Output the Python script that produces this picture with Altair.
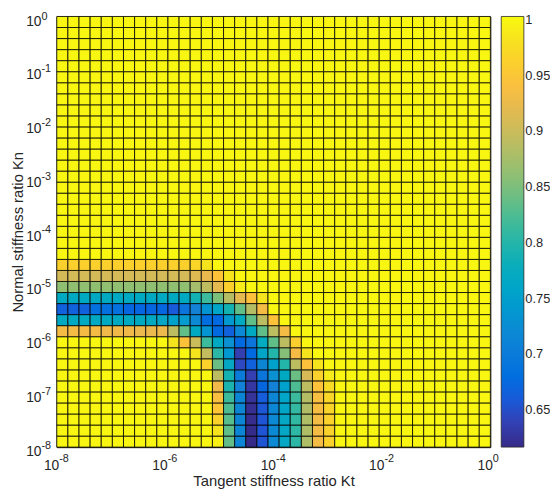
import altair as alt
import numpy as np
import pandas as pd

# ---- grid: 39 x 39 cells, edges at logspace(-8, 0, 40) ----
N_CELLS = 39
EXP_MIN, EXP_MAX = -8.0, 0.0

# Non-unity cell values per row (row 0 = bottom, Kn = 1e-8), each row starts at a column index
ROW_START = [14, 14, 14, 14, 14, 14, 14, 13, 12, 10, 0, 0, 0, 0, 0, 0, 0]
r00 = [0.995, 0.837, 0.715, 0.617, 0.655, 0.720, 0.765, 0.805, 0.880, 0.935, 0.965]
r01 = [0.985, 0.835, 0.715, 0.618, 0.655, 0.720, 0.765, 0.806, 0.880, 0.935, 0.965]
r02 = [0.965, 0.830, 0.715, 0.620, 0.655, 0.720, 0.765, 0.808, 0.880, 0.935, 0.965]
r03 = [0.950, 0.825, 0.715, 0.622, 0.657, 0.717, 0.763, 0.810, 0.882, 0.937, 0.967]
r04 = [0.940, 0.815, 0.715, 0.626, 0.662, 0.715, 0.760, 0.815, 0.885, 0.940, 0.970]
r05 = [0.930, 0.795, 0.710, 0.630, 0.670, 0.710, 0.755, 0.825, 0.890, 0.945, 0.975]
r06 = [0.890, 0.790, 0.700, 0.638, 0.690, 0.730, 0.770, 0.840, 0.910, 0.963, 0.990]
r07 = [0.965, 0.840, 0.765, 0.645, 0.665, 0.715, 0.755, 0.800, 0.890, 0.945, 0.985]
r08 = [0.985, 0.895, 0.805, 0.740, 0.637, 0.675, 0.760, 0.800, 0.855, 0.935, 0.985]
r09 = [0.985, 0.945, 0.900, 0.815, 0.770, 0.730, 0.675, 0.690, 0.775, 0.835, 0.890, 0.960]
r10 = [0.935, 0.935, 0.935, 0.935, 0.930, 0.930, 0.930, 0.925, 0.925, 0.925,
       0.890, 0.835, 0.770, 0.735, 0.675, 0.665, 0.720, 0.770, 0.835, 0.890, 0.935]
r11 = [0.770, 0.770, 0.770, 0.770, 0.770, 0.770, 0.770, 0.770, 0.770,
       0.765, 0.755, 0.745, 0.720, 0.680, 0.675, 0.740, 0.770, 0.835, 0.890, 0.945]
r12 = [0.665, 0.665, 0.665, 0.685, 0.685, 0.685, 0.670, 0.670, 0.670, 0.670, 0.660,
       0.690, 0.710, 0.735, 0.760, 0.790, 0.835, 0.885, 0.935]
r13 = [0.770] * 12 + [0.790, 0.815, 0.850, 0.885, 0.920, 0.945, 0.985]
r14 = [0.862] * 12 + [0.875, 0.892, 0.920, 0.963, 0.990]
r15 = [0.908] * 12 + [0.915, 0.925, 0.946, 0.985]
r16 = [0.963] * 12 + [0.970, 0.985]
ROWS = [r00, r01, r02, r03, r04, r05, r06, r07, r08, r09, r10, r11, r12, r13, r14, r15, r16]

X_TICK_EXP = [-8, -6, -4, -2, 0]
Y_TICK_EXP = [-8, -7, -6, -5, -4, -3, -2, -1, 0]
CBAR_TICKS = [0.65, 0.70, 0.75, 0.80, 0.85, 0.90, 0.95, 1.00]
CBAR_TOP = 1.003   # colour-bar end, just above 1 so the "1" label centres on the top

# MATLAB parula (every 3rd of the 64-entry map)
PARULA = ["#352a87", "#353dad", "#2053d4", "#0268e1", "#0d75dc", "#1481d6",
          "#108ed2", "#079ccf", "#06a7c6", "#0faeb9", "#25b5a9", "#42bb98",
          "#65be86", "#87bf77", "#a5be6b", "#c0bc60", "#d9ba56", "#f1b94a",
          "#ffc337", "#fad32a", "#f5e41d", "#f9fb0e"]

# ---- build cell table ----
grid = np.ones((N_CELLS, N_CELLS))
for j, (start, vals) in enumerate(zip(ROW_START, ROWS)):
    grid[j, start:start + len(vals)] = vals

edges = [10.0 ** (EXP_MIN + (EXP_MAX - EXP_MIN) * k / N_CELLS) for k in range(N_CELLS + 1)]
recs = []
for j in range(N_CELLS):
    for i in range(N_CELLS):
        recs.append({"x0": edges[i], "x1": edges[i + 1],
                     "y0": edges[j], "y1": edges[j + 1], "v": grid[j, i]})
cells = pd.DataFrame(recs)
vmin = float(grid.min())

ticks_df = pd.DataFrame({"kt": [10.0 ** e for e in Y_TICK_EXP],
                         "kn": [10.0 ** e for e in Y_TICK_EXP]})

FONT = "Liberation Sans"
TXT = "#262626"
xvals = [10.0 ** e for e in X_TICK_EXP]
yvals = [10.0 ** e for e in Y_TICK_EXP]
EXP_LABEL = "'' + round(log(datum.value) / LN10)"

def log_scale():
    return alt.Scale(type="log", domain=[10.0 ** EXP_MIN, 10.0 ** EXP_MAX], nice=False)

heat = alt.Chart(cells).mark_rect(stroke="black", strokeWidth=0.8).encode(
    x=alt.X("x0:Q", scale=log_scale(),
            axis=alt.Axis(orient="bottom", values=xvals, labelExpr="'10'",
                          labelAlign="right", labelBaseline="top", labelOffset=2,
                          labelPadding=12, labelFontSize=14, labelFlush=False,
                          labelOverlap=False, ticks=False, tickSize=0, grid=False,
                          domainColor=TXT, title="Tangent stiffness ratio Kt",
                          titleFontSize=15, titlePadding=1)),
    x2="x1:Q",
    y=alt.Y("y0:Q", scale=log_scale(),
            axis=alt.Axis(orient="left", values=yvals, labelExpr="'10'",
                          labelAlign="right", labelBaseline="middle",
                          labelOffset={"condition": {"test": "datum.value > 0.5", "value": 5.5},
                                       "value": 4.5},
                          labelPadding=16, labelFontSize=14, labelFlush=False,
                          labelOverlap=False, ticks=False, tickSize=0, grid=False,
                          domainColor=TXT, title="Normal stiffness ratio Kn",
                          titleFontSize=15, titlePadding=0)),
    y2="y1:Q",
    color=alt.Color("v:Q",
                    scale=alt.Scale(domain=[vmin, CBAR_TOP], range=PARULA),
                    legend=alt.Legend(title=None, orient="right", offset=10.5,
                                      direction="vertical", gradientLength=437,
                                      gradientThickness=23, values=CBAR_TICKS,
                                      format=".2~f", labelFontSize=13, labelOffset=1.5,
                                      labelOverlap=False,
                                      gradientStrokeColor=TXT, gradientStrokeWidth=0.8)),
)

expo = alt.Chart(ticks_df).mark_point(opacity=0).encode(
    x=alt.X("kt:Q", scale=log_scale(),
            axis=alt.Axis(orient="bottom", values=xvals, labelExpr=EXP_LABEL,
                          labelAlign="left", labelBaseline="top", labelOffset=2,
                          labelPadding=5.5, labelFontSize=11, labelFlush=False,
                          labelOverlap=False, ticks=False, tickSize=0, grid=False,
                          domain=False, title=None)),
    y=alt.Y("kn:Q", scale=log_scale(),
            axis=alt.Axis(orient="left", values=yvals, labelExpr=EXP_LABEL,
                          labelAlign="left", labelBaseline="middle",
                          labelOffset={"condition": {"test": "datum.value > 0.5", "value": 0.5},
                                       "value": -1.8},
                          labelPadding=16, labelFontSize=11, labelFlush=False,
                          labelOverlap=False, ticks=False, tickSize=0, grid=False,
                          domain=False, title=None)),
)

chart = alt.layer(heat, expo).resolve_scale(
    x="independent", y="independent"
).resolve_axis(
    x="independent", y="independent"
).properties(
    width=440, height=437,
    autosize=alt.AutoSizeParams(type="none"),
    padding={"left": 49.5, "top": 5, "right": 60.5, "bottom": 45},
).configure_axis(
    labelFont=FONT, titleFont=FONT, labelColor=TXT, titleColor=TXT,
    titleFontWeight="normal",
).configure_legend(
    labelFont=FONT, labelColor=TXT,
).configure_view(
    stroke=TXT, strokeWidth=1,
)

chart.save("out.html", embed_options={"renderer": "svg", "actions": False})
